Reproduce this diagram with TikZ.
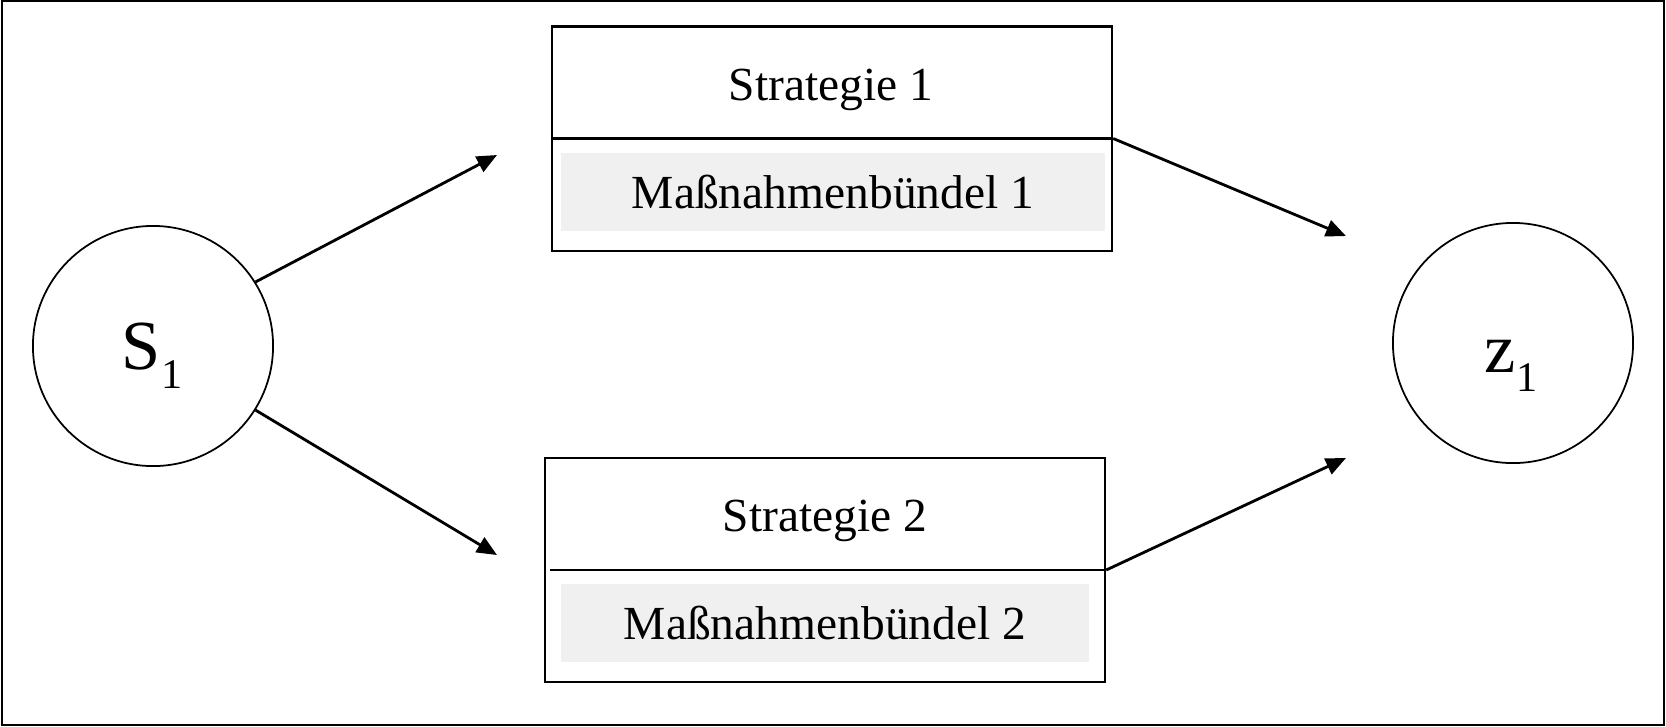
\documentclass[tikz,border=0pt]{standalone}
\usepackage{fontspec}
\setmainfont{Liberation Serif}
\usetikzlibrary{arrows.meta}
\newcommand{\tiefzahl}[1]{\raisebox{-0.6ex}{\fontsize{12}{12}\selectfont #1}}
\tikzset{
  zustand/.style={circle, draw, line width=0.5pt, minimum size=2.4cm, inner sep=0pt},
  zustandtext/.style={anchor=base, inner sep=0pt, font=\fontsize{20}{22}\selectfont},
  strat/.style={draw, line width=0.6pt, minimum width=5.6cm, minimum height=2.24cm, inner sep=0pt},
  strattext/.style={anchor=base, inner sep=0pt, font=\fontsize{13.5}{15}\selectfont},
  buendel/.style={fill=gray!12, minimum height=0.77cm, inner sep=0pt, font=\fontsize{13.5}{15}\selectfont},
  pfeil/.style={-{Triangle[length=0.2cm, width=0.17cm]}, line width=0.8pt}
}
\begin{document}
\begin{tikzpicture}[x=0.01cm, y=-0.01cm]
        \useasboundingbox (0,0) rectangle (1666,726);
        \draw [line width=0.5pt] (2,1) rectangle (1664,725);
        \node [zustand] (s1) at (153,346) {};
        \node [zustandtext] (s1text) at (152,369) {S\tiefzahl{1}};
        \node [zustand] (z1) at (1513,343) {};
        \node [zustandtext] (z1text) at (1511,372) {z\tiefzahl{1}};
        \node [buendel, minimum width=5.44cm] (m1) at (833,192) {Maßnahmenbündel 1};
        \node [buendel, minimum width=5.28cm] (m2) at (825,623) {Maßnahmenbündel 2};
        \node [strat] (b1) at (832,138.5) {};
        \node [strat] (b2) at (825,570) {};
        \node [strattext] (t1) at (831,100) {Strategie 1};
        \node [strattext] (t2) at (825,531) {Strategie 2};
        \draw [line width=0.6pt] (b1.west) -- (b1.east);
        \draw [line width=0.6pt] ([xshift=0.06cm]b2.west) -- (b2.east);
        \coordinate (e1) at (497,155);
        \coordinate (e2) at (497,555);
        \coordinate (e3) at (1346,236);
        \coordinate (e4) at (1346,458);
        \draw [pfeil] (s1.32) -- (e1);
        \draw [pfeil] (s1.-32) -- (e2);
        \draw [pfeil] (b1.east) -- (e3);
        \draw [pfeil] (b2.east) -- (e4);
\end{tikzpicture}
\end{document}
